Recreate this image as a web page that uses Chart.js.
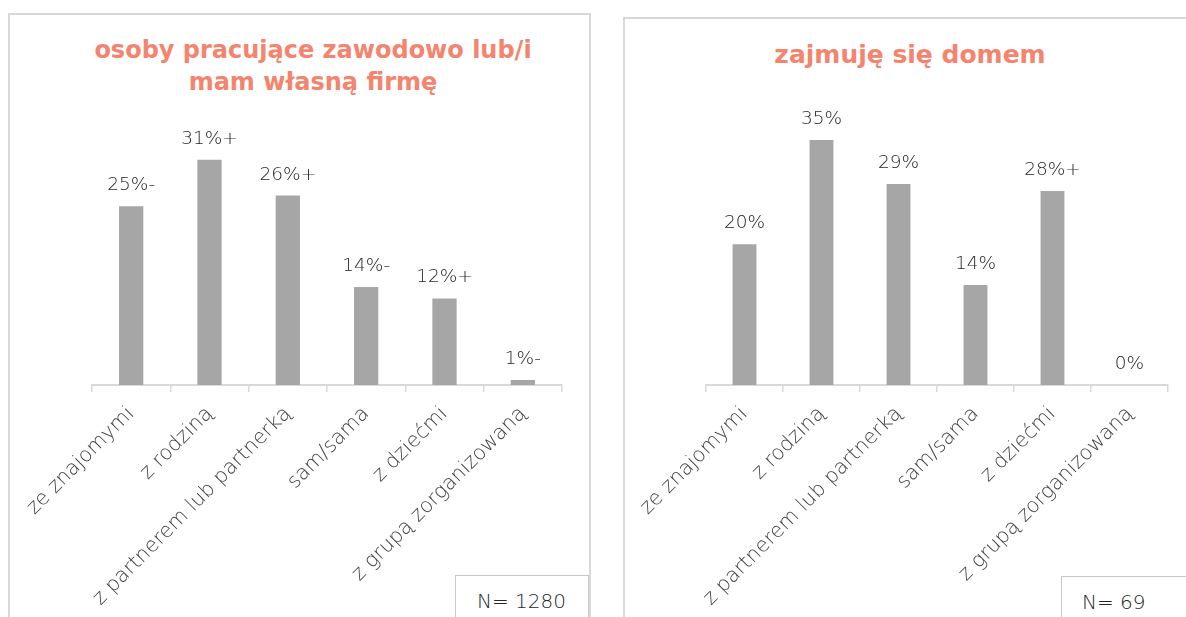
<!DOCTYPE html>
<html>
<head>
<meta charset="utf-8">
<script src="https://cdn.jsdelivr.net/npm/chart.js@4/dist/chart.umd.min.js"></script>
<style>
  body { margin: 0; width: 1186px; height: 617px; overflow: hidden; background: #fff; position: relative; }
  .panel { position: absolute; box-sizing: border-box; border: 2px solid #d9d9d9; background: #fff; }
  .title { position: absolute; text-align: center; font-family: "DejaVu Sans", sans-serif; font-weight: bold; color: #f4846e; line-height: 32px; white-space: nowrap; }
  canvas { position: absolute; }
  .nbox { position: absolute; box-sizing: border-box; border: 1px solid #c8c8c8; background: #fff;
          font-family: "DejaVu Sans", sans-serif; font-weight: 300; font-size: 20px; line-height: 24px; color: #262626; padding-top: 13px; }
</style>
</head>
<body>
<div class="panel" style="left:8px;top:13px;width:583px;height:640px"></div>
<div class="panel" style="left:623px;top:17px;width:600px;height:640px"></div>

<div class="title" style="left:63px;top:34px;width:500px;font-size:24px">osoby pracujące zawodowo lub/i<br>mam własną firmę</div>
<div class="title" style="left:660px;top:39px;width:500px;font-size:25px">zajmuję się domem</div>

<canvas id="chartLeft" width="580" height="602" style="left:10px;top:15px"></canvas>
<canvas id="chartRight" width="561" height="598" style="left:625px;top:19px"></canvas>

<div class="nbox" style="left:455px;top:575px;width:134px;height:60px;padding-left:21px">N= 1280</div>
<div class="nbox" style="left:1061px;top:576px;width:140px;height:60px;padding-left:20px">N= 69</div>

<script>
const categories = ['ze znajomymi', 'z rodziną', 'z partnerem lub partnerką', 'sam/sama', 'z dziećmi', 'z grupą zorganizowaną'];

// osoby pracujące zawodowo lub/i mam własną firmę
const workingValues = [25.0, 31.5, 26.5, 13.7, 12.1, 0.7];
const workingLabels = ['25%-', '31%+', '26%+', '14%-', '12%+', '1%-'];

// zajmuję się domem
const homeValues = [20.1, 35.0, 28.7, 14.3, 27.7, 0];
const homeLabels = ['20%', '35%', '29%', '14%', '28%+', '0%'];

// draw value labels above each bar
const barLabels = {
  id: 'barLabels',
  afterDatasetsDraw(chart, args, opts) {
    const ctx = chart.ctx;
    const meta = chart.getDatasetMeta(0);
    ctx.save();
    ctx.font = '300 18.5px "DejaVu Sans"';
    ctx.fillStyle = '#262626';
    ctx.textAlign = 'center';
    ctx.textBaseline = 'alphabetic';
    meta.data.forEach((bar, i) => {
      ctx.fillText(opts.texts[i], bar.x, bar.y - 16);
    });
    ctx.restore();
  }
};

function makeChart(id, values, texts, padding) {
  const ctx = document.getElementById(id).getContext('2d');
  return new Chart(ctx, {
    type: 'bar',
    data: {
      labels: categories,
      datasets: [{
        data: values,
        backgroundColor: '#a6a6a6',
        borderWidth: 0,
        barPercentage: 0.31,
        categoryPercentage: 1
      }]
    },
    options: {
      responsive: false,
      animation: false,
      layout: { padding },
      plugins: {
        legend: { display: false },
        tooltip: { enabled: false },
        barLabels: { texts }
      },
      scales: {
        y: { display: false, min: 0, max: 40 },
        x: {
          afterFit(scale) { scale.height = 232; },
          border: { color: '#d9d9d9', width: 2 },
          grid: { color: '#d9d9d9', lineWidth: 1.5, drawOnChartArea: false, drawTicks: true, tickLength: 7, offset: true },
          ticks: {
            autoSkip: false,
            maxRotation: 45,
            minRotation: 45,
            padding: 10,
            color: '#404040',
            font: { family: 'DejaVu Sans', size: 20.5, weight: 300 }
          }
        }
      }
    },
    plugins: [barLabels]
  });
}

makeChart('chartLeft', workingValues, workingLabels, { left: 82, right: 28, top: 84, bottom: 0 });
makeChart('chartRight', homeValues, homeLabels, { left: 81, right: 18, top: 86, bottom: 0 });
</script>
</body>
</html>
